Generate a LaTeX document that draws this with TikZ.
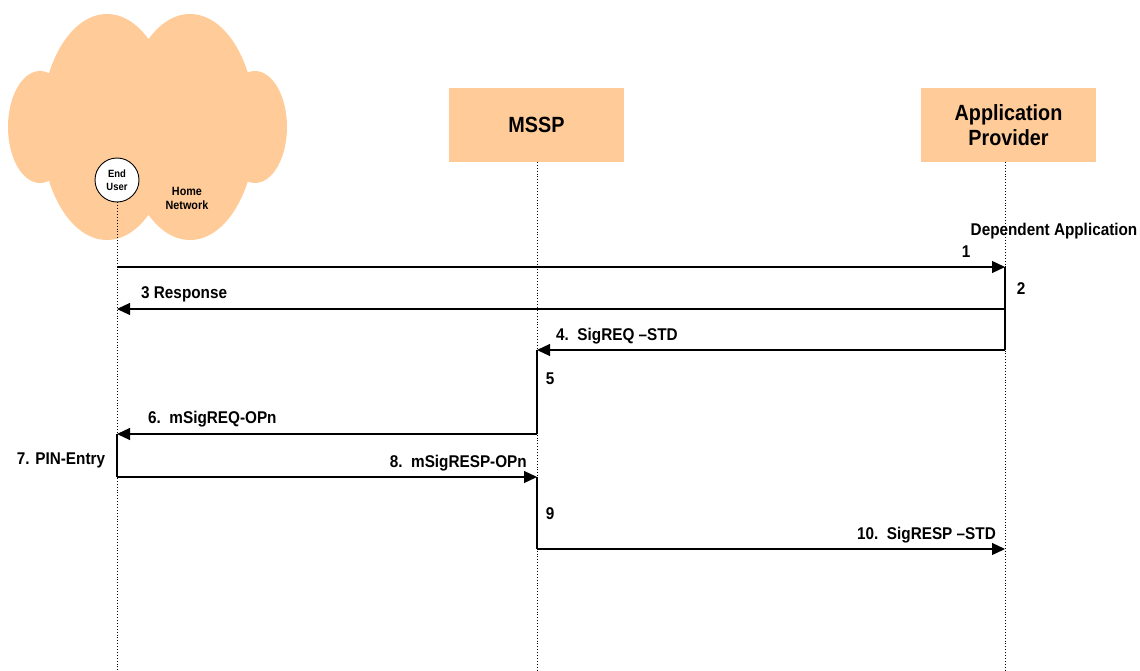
\documentclass[tikz,border=0pt]{standalone}
\usepackage{fontspec}
\setmainfont[FakeStretch=0.9]{Liberation Sans}
\usetikzlibrary{arrows.meta}
\definecolor{peach}{HTML}{FFCC99}
\begin{document}
\begin{tikzpicture}[x=1pt,y=-1pt,
  lbl/.style={inner sep=0pt,font=\fontsize{17}{20}\selectfont\bfseries},
  actor/.style={fill=peach,draw=none,minimum width=175pt,minimum height=74pt,align=center,font=\fontsize{22}{25}\selectfont\bfseries},
  life/.style={dotted,line width=0.9pt,black},
  act/.style={line width=1.1pt},
  msg/.style={line width=1.2pt,-{Triangle[length=13pt,width=12pt]}}]
\useasboundingbox (0,0) rectangle (1140,671);
% cloud
\fill[peach] (40,127) ellipse [x radius=32,y radius=56];
\fill[peach] (255,127) ellipse [x radius=32,y radius=56];
\fill[peach] (107,127) ellipse [x radius=66,y radius=113];
\fill[peach] (190,127) ellipse [x radius=66,y radius=113];
\node[inner sep=0pt,align=center,font=\fontsize{12}{14}\selectfont\bfseries] (home) at (187,198) {Home\\Network};
% actors
\node[circle,draw,line width=0.9pt,fill=white,minimum size=44pt,inner sep=0pt,align=center,font=\fontsize{10.5}{12.5}\selectfont\bfseries] (eu) at (117,180) {End\\User};
\node[actor] (mssp) at (536.5,125) {MSSP};
\node[actor] (ap) at (1008.5,125) {Application\\Provider};
% lifeline coordinates
\coordinate (euB) at (117,671);
\coordinate (msB) at (537,671);
\coordinate (apB) at (1005,671);
\coordinate (ms0) at (537,162);
\coordinate (ap0) at (1005,162);
\draw[life] (eu.south) -- (euB);
\draw[life] (ms0) -- (msB);
\draw[life] (ap0) -- (apB);
% message points
\coordinate (eu1) at (117,267); \coordinate (ap1) at (1005,267);
\coordinate (eu3) at (117,309); \coordinate (ap3) at (1005,309);
\coordinate (ms4) at (537,350); \coordinate (ap4) at (1005,350);
\coordinate (eu6) at (117,434); \coordinate (ms6) at (537,434);
\coordinate (eu8) at (117,477); \coordinate (ms8) at (537,477);
\coordinate (ms10) at (537,549); \coordinate (ap10) at (1005,549);
% activations
\draw[act] (ap1) -- (ap4);
\draw[act] (ms4) -- (ms6);
\draw[act] (eu6) -- (eu8);
\draw[act] (ms8) -- (ms10);
% messages
\draw[msg] (eu1) -- (ap1);
\draw[msg] (ap3) -- (eu3);
\draw[msg] (ap4) -- (ms4);
\draw[msg] (ms6) -- (eu6);
\draw[msg] (eu8) -- (ms8);
\draw[msg] (ms10) -- (ap10);
% labels
\node[lbl] (dep) at (1054,231) {Dependent Application};
\node[lbl] (l1) at (966,252) {1};
\node[lbl] (l2) at (1021,289) {2};
\node[lbl,anchor=west] (l3) at (141,294) {3 Response};
\node[lbl,anchor=west] (l4) at (556,336) {4.\ \ SigREQ –STD};
\node[lbl] (l5) at (550,379) {5};
\node[lbl,anchor=west] (l6) at (148,419) {6.\ \ mSigREQ-OPn};
\node[lbl] (l7) at (61,460) {7. PIN-Entry};
\node[lbl,anchor=east] (l8) at (527,463) {8.\ \ mSigRESP-OPn};
\node[lbl] (l9) at (550,514) {9};
\node[lbl,anchor=east] (l10) at (996,535) {10.\ \ SigRESP –STD};
\end{tikzpicture}
\end{document}
